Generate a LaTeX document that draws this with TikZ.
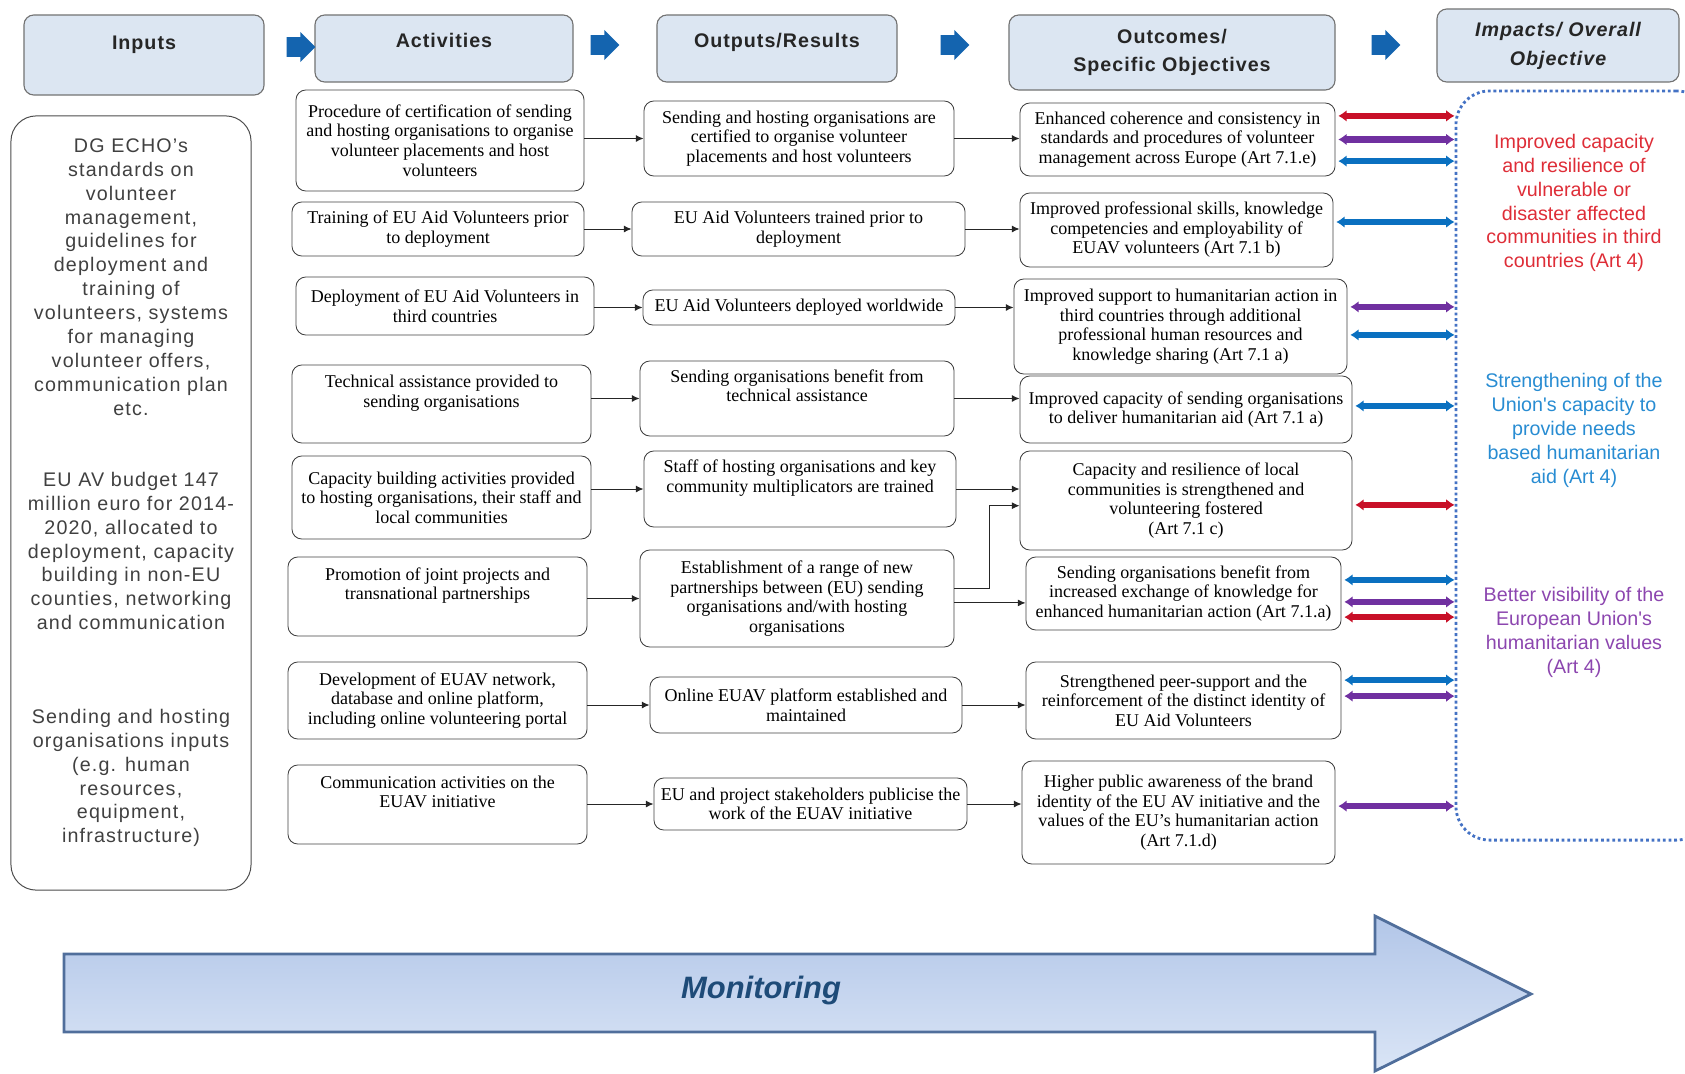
\documentclass[tikz,border=0pt]{standalone}
\usepackage{fontspec}
\setmainfont{Liberation Serif}
\newfontfamily\sansfont{Liberation Sans}
\newfontfamily\spacedsans{Liberation Sans}[LetterSpace=6]
\newfontfamily\headsans{Liberation Sans}[LetterSpace=5]
\usetikzlibrary{arrows.meta,shapes.arrows,positioning,calc}

\definecolor{headfill}{RGB}{220,230,242}
\definecolor{linkred}{RGB}{200,16,40}
\definecolor{linkpurple}{RGB}{112,48,160}
\definecolor{linkblue}{RGB}{10,112,192}
\definecolor{txtred}{RGB}{222,45,55}
\definecolor{txtblue}{RGB}{40,140,210}
\definecolor{txtpurple}{RGB}{140,70,175}
\definecolor{dotblue}{RGB}{68,114,196}
\definecolor{stepblue}{RGB}{20,100,175}
\definecolor{montop}{RGB}{178,198,232}
\definecolor{monbot}{RGB}{218,229,246}
\definecolor{monline}{RGB}{80,110,155}
\definecolor{montext}{RGB}{30,75,120}

\tikzset{
  cell/.style={draw=black!75, line width=0.6pt, rounded corners=7pt, align=center,
    inner sep=1pt, font=\fontsize{12.8}{13.9}\selectfont},
  colhead/.style={draw=black!55, line width=0.8pt, fill=headfill, rounded corners=7pt,
    align=center, text=black!85, font=\headsans\bfseries\fontsize{14}{20}\selectfont},
  stepper/.style={single arrow, fill=stepblue, draw=none, minimum height=0.72cm,
    inner xsep=0pt, inner ysep=0.24cm, single arrow head extend=0.13cm},
  inputtext/.style={font=\spacedsans\fontsize{14}{17}\selectfont, align=center, text=black!75},
  impacttext/.style={font=\sansfont\fontsize{14}{17}\selectfont, align=center},
  conn/.style={-{Latex[length=5.5pt,width=5pt]}, line width=0.7pt, black!85},
  link/.style={{Latex[length=6pt,width=8.5pt]}-{Latex[length=6pt,width=8.5pt]},
    line width=4.4pt, shorten <=2pt}
}

\begin{document}
\begin{tikzpicture}[x=0.025cm, y=-0.025cm]
  \useasboundingbox (0,0) rectangle (1685,1073);

  % headers
  \node[colhead, minimum width=6cm, minimum height=2cm] (hin) at (144,55) {Inputs\\[-8pt]\strut};
  \node[colhead, minimum width=6.45cm, minimum height=1.675cm] (hact) at (444,48.5) {Activities\\[-14pt]\strut};
  \node[colhead, minimum width=6cm, minimum height=1.675cm] (hout) at (777,48.5) {Outputs/Results\\[-14pt]\strut};
  \node[colhead, minimum width=8.15cm, minimum height=1.875cm] (hoc) at (1172,52.5) {Outcomes/\\Specific Objectives};
  \node[colhead, minimum width=6.05cm, minimum height=1.825cm,
        font=\headsans\bfseries\itshape\fontsize{14}{20.5}\selectfont] (himp) at (1558,45.5) {Impacts/ Overall\\Objective};

  \node[stepper] (s1) at (296,47) {};
  \node[stepper] (s2) at (600,45) {};
  \node[stepper] (s3) at (950,45) {};
  \node[stepper] (s4) at (1381,45) {};

  % inputs
  \node[draw=black!70, line width=0.7pt, rounded corners=18pt, minimum width=6cm, minimum height=19.35cm] (inputs) at (131,503) {};
  \node[inputtext] (inp1) at (131,277) {DG ECHO’s\\standards on\\volunteer\\management,\\guidelines for\\deployment and\\training of\\volunteers, systems\\for managing\\volunteer offers,\\communication plan\\etc.};
  \node[inputtext] (inp2) at (131,551) {EU AV budget 147\\million euro for 2014-\\2020, allocated to\\deployment, capacity\\building in non-EU\\counties, networking\\and communication};
  \node[inputtext] (inp3) at (131,778) {Sending and hosting\\organisations inputs\\(e.g. human\\resources,\\equipment,\\infrastructure)};

  % activities
  \node[cell, minimum width=7.2cm, minimum height=2.525cm] (a1) at (440,140.5) {Procedure of certification of sending\\and hosting organisations to organise\\volunteer placements and host\\volunteers};
  \node[cell, minimum width=7.3cm, minimum height=1.35cm] (a2) at (438,229) {Training of EU Aid Volunteers prior\\to deployment};
  \node[cell, minimum width=7.45cm, minimum height=1.45cm] (a3) at (445,306) {Deployment of EU Aid Volunteers in\\third countries};
  \node[cell, minimum width=7.475cm, minimum height=1.95cm] (a4) at (441.5,404) {Technical assistance provided to\\sending organisations\\\strut};
  \node[cell, minimum width=7.475cm, minimum height=2.075cm] (a5) at (441.5,497.5) {Capacity building activities provided\\to hosting organisations, their staff and\\local communities};
  \node[cell, minimum width=7.475cm, minimum height=1.975cm] (a6) at (437.5,596.5) {Promotion of joint projects and\\transnational partnerships\\\strut};
  \node[cell, minimum width=7.475cm, minimum height=1.925cm] (a7) at (437.5,700.5) {Development of EUAV network,\\database and online platform,\\including online volunteering portal};
  \node[cell, minimum width=7.475cm, minimum height=1.975cm] (a8) at (437.5,804.5) {Communication activities on the\\EUAV initiative\\\strut};

  % outputs
  \node[cell, minimum width=7.75cm, minimum height=1.875cm] (o1) at (799,138.5) {Sending and hosting organisations are\\certified to organise volunteer\\placements and host volunteers};
  \node[cell, minimum width=8.325cm, minimum height=1.35cm] (o2) at (798.5,229) {EU Aid Volunteers trained prior to\\deployment};
  \node[cell, minimum width=7.8cm, minimum height=0.875cm] (o3) at (799,307.5) {EU Aid Volunteers deployed worldwide};
  \node[cell, minimum width=7.85cm, minimum height=1.875cm] (o4) at (797,398.5) {Sending organisations benefit from\\technical assistance\\\strut};
  \node[cell, minimum width=7.8cm, minimum height=1.9cm] (o5) at (800,489) {Staff of hosting organisations and key\\community multiplicators are trained\\\strut};
  \node[cell, minimum width=7.85cm, minimum height=2.425cm] (o6) at (797,598.5) {Establishment of a range of new\\partnerships between (EU) sending\\organisations and/with hosting\\organisations};
  \node[cell, minimum width=7.8cm, minimum height=1.4cm] (o7) at (806,705) {Online EUAV platform established and\\maintained};
  \node[cell, minimum width=7.825cm, minimum height=1.3cm] (o8) at (810.5,804) {EU and project stakeholders publicise the\\work of the EUAV initiative};

  % outcomes
  \node[cell, minimum width=7.875cm, minimum height=1.825cm] (c1) at (1177.5,139.5) {Enhanced coherence and consistency in\\standards and procedures of volunteer\\management across Europe (Art 7.1.e)};
  \node[cell, minimum width=7.825cm, minimum height=1.85cm] (c2) at (1176.5,230) {Improved professional skills, knowledge\\competencies and employability of\\EUAV volunteers (Art 7.1 b)};
  \node[cell, minimum width=8.325cm, minimum height=2.375cm] (c3) at (1180.5,326.5) {Improved support to humanitarian action in\\third countries through additional\\professional human resources and\\knowledge sharing (Art 7.1 a)};
  \node[cell, minimum width=8.3cm, minimum height=1.675cm] (c4) at (1186,409.5) {Improved capacity of sending organisations\\to deliver humanitarian aid (Art 7.1 a)};
  \node[cell, minimum width=8.3cm, minimum height=2.475cm] (c5) at (1186,500.5) {Capacity and resilience of local\\communities is strengthened and\\volunteering fostered\\(Art 7.1 c)};
  \node[cell, minimum width=7.875cm, minimum height=1.825cm] (c6) at (1183.5,593.5) {Sending organisations benefit from\\increased exchange of knowledge for\\enhanced humanitarian action (Art 7.1.a)};
  \node[cell, minimum width=7.875cm, minimum height=1.925cm] (c7) at (1183.5,700.5) {Strengthened peer-support and the\\reinforcement of the distinct identity of\\EU Aid Volunteers};
  \node[cell, minimum width=7.825cm, minimum height=2.575cm] (c8) at (1178.5,812.5) {Higher public awareness of the brand\\identity of the EU AV initiative and the\\values of the EU's humanitarian action\\(Art 7.1.d)};

  % impacts
  \node[draw=dotblue, line width=2pt, dotted, rounded corners=24pt, minimum width=6.35cm, minimum height=18.725cm] (impbox) at (1583,465.5) {};
  \node[impacttext, text=txtred] (imp1) at (1574,203) {Improved capacity\\and resilience of\\vulnerable or\\disaster affected\\communities in third\\countries (Art 4)};
  \node[impacttext, text=txtblue] (imp2) at (1574,430.5) {Strengthening of the\\Union's capacity to\\provide needs\\based humanitarian\\aid (Art 4)};
  \node[impacttext, text=txtpurple] (imp3) at (1574,632.5) {Better visibility of the\\European Union's\\humanitarian values\\(Art 4)};

  % activities -> outputs
  \foreach \i in {1,...,8}
    \draw[conn] (a\i.east |- o\i) -- (o\i.west);
  % outputs -> outcomes
  \foreach \i in {1,2,3,4,5,7,8}
    \draw[conn] (o\i.east) -- (o\i.east -| c\i.west);
  \draw[conn] ([yshift=-0.11cm]o6.east) -- ([yshift=-0.11cm]o6.east -| c6.west);
  \draw[conn] ([yshift=0.24cm]o6.east) -- ++(0.875cm,0) |- ([yshift=-0.13cm]c5.west);

  % outcomes <-> impacts
  \draw[link, linkred] ([yshift=0.59cm]c1.east) -- ([yshift=0.59cm]c1.east -| impbox.west);
  \draw[link, linkpurple] (c1.east) -- (c1.east -| impbox.west);
  \draw[link, linkblue] ([yshift=-0.54cm]c1.east) -- ([yshift=-0.54cm]c1.east -| impbox.west);
  \draw[link, linkblue] ([yshift=0.2cm]c2.east) -- ([yshift=0.2cm]c2.east -| impbox.west);
  \draw[link, linkpurple] ([yshift=0.49cm]c3.east) -- ([yshift=0.49cm]c3.east -| impbox.west);
  \draw[link, linkblue] ([yshift=-0.21cm]c3.east) -- ([yshift=-0.21cm]c3.east -| impbox.west);
  \draw[link, linkblue] ([yshift=0.09cm]c4.east) -- ([yshift=0.09cm]c4.east -| impbox.west);
  \draw[link, linkred] ([yshift=-0.11cm]c5.east) -- ([yshift=-0.11cm]c5.east -| impbox.west);
  \draw[link, linkblue] ([yshift=0.34cm]c6.east) -- ([yshift=0.34cm]c6.east -| impbox.west);
  \draw[link, linkpurple] ([yshift=-0.21cm]c6.east) -- ([yshift=-0.21cm]c6.east -| impbox.west);
  \draw[link, linkred] ([yshift=-0.59cm]c6.east) -- ([yshift=-0.59cm]c6.east -| impbox.west);
  \draw[link, linkblue] ([yshift=0.51cm]c7.east) -- ([yshift=0.51cm]c7.east -| impbox.west);
  \draw[link, linkpurple] ([yshift=0.11cm]c7.east) -- ([yshift=0.11cm]c7.east -| impbox.west);
  \draw[link, linkpurple] ([yshift=0.16cm]c8.east) -- ([yshift=0.16cm]c8.east -| impbox.west);

  % monitoring arrow
  \path[draw=monline, line width=2pt, line join=miter, top color=montop, bottom color=monbot]
    (64,954) -- (1375,954) -- (1375,916) -- (1531,994) -- (1375,1071) -- (1375,1032) -- (64,1032) -- cycle;
  \node[font=\sansfont\bfseries\itshape\fontsize{22}{26}\selectfont, text=montext] (mon) at (761,990) {Monitoring};
\end{tikzpicture}
\end{document}
